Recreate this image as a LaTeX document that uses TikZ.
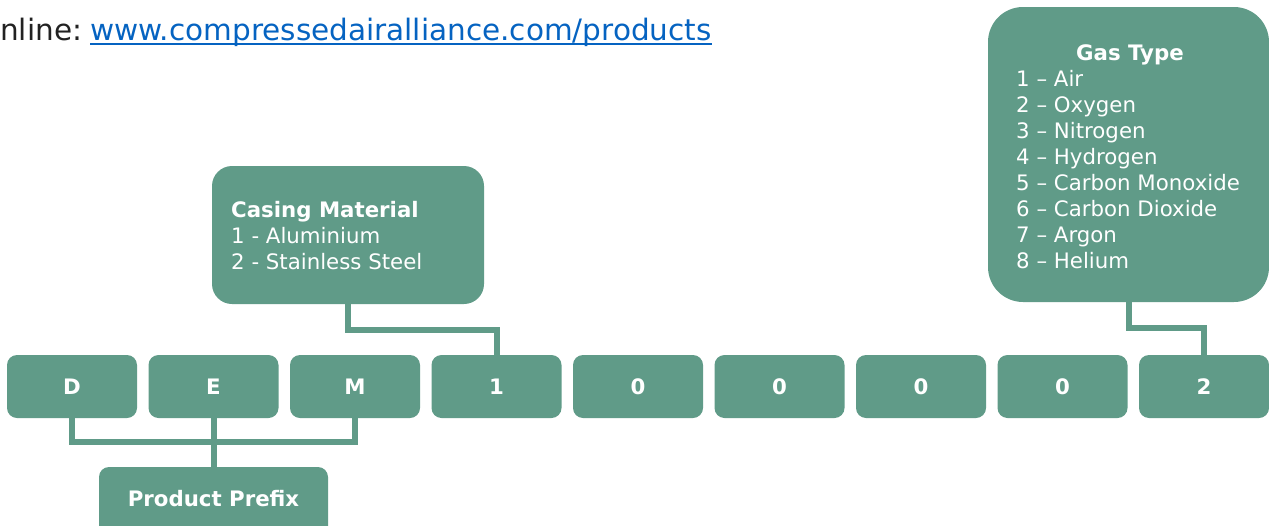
\documentclass[tikz,border=0pt]{standalone}
\usepackage{fontspec}
\setmainfont{DejaVu Sans}
\definecolor{teal}{RGB}{96,155,136}
\definecolor{linkblue}{RGB}{5,99,193}
\definecolor{darktext}{RGB}{34,34,34}
\begin{document}
\begin{tikzpicture}[x=1pt,y=-1pt,
  box/.style={fill=teal,draw=none,rounded corners=10pt,minimum width=130pt,minimum height=63pt,inner sep=0pt,text=white,font=\fontsize{21.3}{26}\selectfont\bfseries},
  bigbox/.style={fill=teal,draw=none,inner sep=0pt},
  conn/.style={draw=teal,line width=6pt,line join=miter},
  boxtext/.style={text=white,inner sep=0pt,font=\fontsize{21.3}{26}\selectfont}
]
\useasboundingbox (0,0) rectangle (1269,525);
\clip (0,0) rectangle (1269,525);

% top line
\node[anchor=base west,inner sep=0pt,font=\fontsize{29.5}{34}\selectfont,text=darktext] (online) at (0,40) {nline:};
\node[anchor=base west,inner sep=0pt,font=\fontsize{29.5}{34}\selectfont,text=linkblue] (link) at (90,40) {www.compressedairalliance.com/products};
\draw[linkblue,line width=2pt] ([yshift=-3.5pt]link.base west) -- ([yshift=-3.5pt]link.base east);

% coordinates for connectors
\coordinate (ppj) at (213.5,442);
\coordinate (cmj) at (496.5,330);
\coordinate (gtj) at (1204,328);

% code boxes
\node[box] (D) at (72,386.5) {D};
\node[box] (E) at (213.5,386.5) {E};
\node[box] (M) at (355,386.5) {M};
\node[box] (N1) at (496.5,386.5) {1};
\node[box] (N2) at (638,386.5) {0};
\node[box] (N3) at (779.5,386.5) {0};
\node[box] (N4) at (921,386.5) {0};
\node[box] (N5) at (1062.5,386.5) {0};
\node[box] (N6) at (1204,386.5) {2};

% big boxes
\node[bigbox,rounded corners=20pt,minimum width=272pt,minimum height=138pt] (CM) at (348,235) {};
\node[bigbox,rounded corners=35pt,minimum width=281pt,minimum height=295pt] (GT) at (1128.5,154.5) {};
\node[bigbox,rounded corners=10pt,minimum width=229pt,minimum height=90pt] (PP) at (213.5,512) {};
\node[text=white,inner sep=0pt,font=\fontsize{21.3}{26}\selectfont\bfseries] (pptext) at (213.5,499) {Product Prefix};

% texts in big boxes
\node[boxtext,anchor=base west,font=\fontsize{21.3}{26}\selectfont\bfseries] (cmt) at (231,217) {Casing Material};
\node[boxtext,anchor=base west] (cm1) at (231,243) {1 - Aluminium};
\node[boxtext,anchor=base west] (cm2) at (231,269) {2 - Stainless Steel};

\node[boxtext,anchor=base,font=\fontsize{21.3}{26}\selectfont\bfseries] (gtt) at (1130,60) {Gas Type};
\node[boxtext,anchor=base west] (g1) at (1016,86) {1 – Air};
\node[boxtext,anchor=base west] (g2) at (1016,112) {2 – Oxygen};
\node[boxtext,anchor=base west] (g3) at (1016,138) {3 – Nitrogen};
\node[boxtext,anchor=base west] (g4) at (1016,164) {4 – Hydrogen};
\node[boxtext,anchor=base west] (g5) at (1016,190) {5 – Carbon Monoxide};
\node[boxtext,anchor=base west] (g6) at (1016,216) {6 – Carbon Dioxide};
\node[boxtext,anchor=base west] (g7) at (1016,242) {7 – Argon};
\node[boxtext,anchor=base west] (g8) at (1016,268) {8 – Helium};

% connectors
\draw[conn] (D.south) |- (ppj) -| (M.south);
\draw[conn] (E.south) -- (PP.north);
\draw[conn] (CM.south) |- (cmj) -- (N1.north);
\draw[conn] (GT.south) |- (gtj) -- (N6.north);
\end{tikzpicture}
\end{document}
